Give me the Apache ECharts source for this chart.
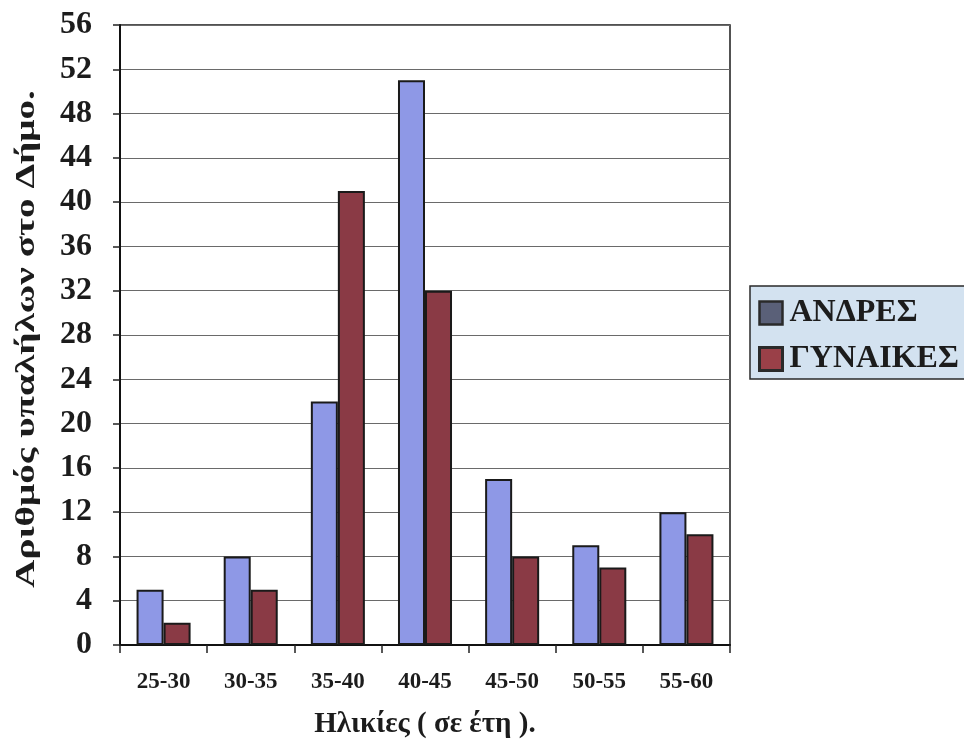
<!DOCTYPE html>
<html>
<head>
<meta charset="utf-8">
<script src="https://cdn.jsdelivr.net/npm/echarts@6/dist/echarts.min.js"></script>
<style>
  html, body { margin: 0; padding: 0; background: #ffffff; }
  #chart { width: 964px; height: 744px; }
</style>
</head>
<body>
<div id="chart"></div>
<script>
// Age groups (years)
const ageGroups = ['25-30', '30-35', '35-40', '40-45', '45-50', '50-55', '55-60'];
// Number of municipal employees per age group
const men = [5, 8, 22, 51, 15, 9, 12];
const women = [2, 5, 41, 32, 8, 7, 10];
const seriesNames = ['ΑΝΔΡΕΣ', 'ΓΥΝΑΙΚΕΣ'];
const yTitle = 'Αριθμός υπαλήλων στο Δήμο.';
const xTitle = 'Ηλικίες ( σε έτη ).';

const serif = '"Liberation Serif", "Times New Roman", serif';
const chart = echarts.init(document.getElementById('chart'));

chart.setOption({
  animation: false,
  backgroundColor: '#ffffff',
  grid: {
    left: 120, right: 234, top: 25, bottom: 99,
    show: true, borderColor: '#1a1a1a', borderWidth: 1.5,
    containLabel: false
  },
  // vertical axis title, stretched along its reading direction
  graphic: [{
    type: 'text',
    x: 27, y: 339,
    rotation: Math.PI / 2,
    scaleX: 1.4,
    style: {
      text: yTitle,
      font: 'bold 28px ' + serif,
      fill: '#1c1c1c',
      align: 'center',
      verticalAlign: 'middle'
    }
  }],
  legend: {
    orient: 'vertical',
    left: 750, top: 286,
    itemWidth: 23, itemHeight: 23, itemGap: 14,
    padding: [11, 80, 4, 8],
    backgroundColor: '#d3e2f0',
    borderColor: '#2a2a2a', borderWidth: 1.5,
    icon: 'rect',
    textStyle: {
      fontFamily: serif, fontWeight: 'bold', fontSize: 32, lineHeight: 24,
      color: '#1c1c1c', padding: [0, 0, 0, 2]
    },
    data: [
      { name: seriesNames[0], itemStyle: { color: '#5a6078', borderColor: '#2a2a2a', borderWidth: 2.5 } },
      { name: seriesNames[1], itemStyle: { color: '#9a4048', borderColor: '#2a2a2a', borderWidth: 3 } }
    ]
  },
  xAxis: {
    type: 'category',
    data: ageGroups,
    name: xTitle,
    nameLocation: 'middle',
    nameGap: 65,
    nameTextStyle: { fontFamily: serif, fontWeight: 'bold', fontSize: 29, color: '#1c1c1c' },
    axisLine: { lineStyle: { color: '#111', width: 2 } },
    axisTick: { show: true, length: 8, lineStyle: { color: '#222', width: 1.5 } },
    axisLabel: { margin: 26, fontFamily: serif, fontWeight: 'bold', fontSize: 23, color: '#1c1c1c' }
  },
  yAxis: {
    type: 'value',
    min: 0, max: 56, interval: 4,
    axisLine: { show: true, lineStyle: { color: '#111', width: 2 } },
    axisTick: { show: true, length: 7, lineStyle: { color: '#222', width: 1.5 } },
    axisLabel: { margin: 28, fontFamily: serif, fontWeight: 'bold', fontSize: 32, color: '#1c1c1c' },
    splitLine: { lineStyle: { color: '#6a6a6a', width: 1.2 } }
  },
  series: [
    {
      name: seriesNames[0], type: 'bar', data: men,
      barGap: '0%', barCategoryGap: '38%',
      itemStyle: { color: '#8e98e6', borderColor: '#1a1a1a', borderWidth: 2 }
    },
    {
      name: seriesNames[1], type: 'bar', data: women,
      itemStyle: { color: '#8a3a45', borderColor: '#1a1a1a', borderWidth: 2 }
    }
  ]
});
</script>
</body>
</html>
